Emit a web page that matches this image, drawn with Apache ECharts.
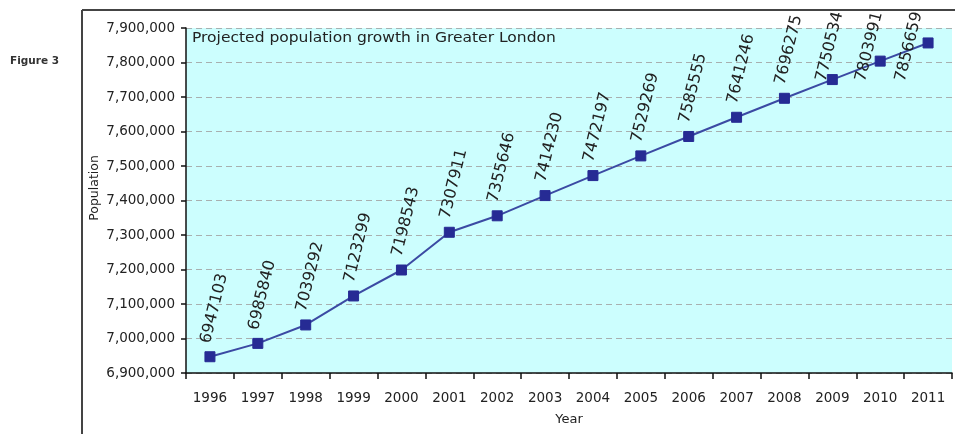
<!DOCTYPE html>
<html>
<head>
<meta charset="utf-8">
<script src="https://cdn.jsdelivr.net/npm/echarts@6/dist/echarts.min.js"></script>
<style>
  html, body { margin: 0; padding: 0; background: #ffffff; }
  #chart { width: 955px; height: 434px; }
</style>
</head>
<body>
<div id="chart"></div>
<script>
// Projected population of Greater London, by year
const years = ['1996', '1997', '1998', '1999', '2000', '2001', '2002', '2003',
               '2004', '2005', '2006', '2007', '2008', '2009', '2010', '2011'];
const population = [6947103, 6985840, 7039292, 7123299, 7198543, 7307911, 7355646, 7414230,
                    7472197, 7529269, 7585555, 7641246, 7696275, 7750534, 7803991, 7856659];
const yMin = 6900000;
const yMax = 7900000;
const yStep = 100000;

const FONT = '"DejaVu Sans", sans-serif';
const TEXT = '#222222';

// rotated value labels
const LABEL_ROTATE = 76;            // degrees, counter-clockwise
const LABEL_OFFSET = [7, -6];       // in the label's own (rotated) frame
const LABEL_RISE = 87;              // how far a label reaches above its point
const LABEL_CEILING = 8;            // labels may not rise above this y
const LABEL_SLIDE = 0.45;           // leftward slide per pixel pushed down

const chart = echarts.init(document.getElementById('chart'), null, { renderer: 'canvas' });

chart.setOption({
  backgroundColor: '#ffffff',
  animation: false,
  textStyle: { fontFamily: FONT },
  graphic: [
    // chart-area frame (top and left edges)
    { type: 'line', shape: { x1: 82, y1: 10, x2: 955, y2: 10 },
      style: { stroke: '#444444', lineWidth: 2 }, silent: true },
    { type: 'line', shape: { x1: 82, y1: 10, x2: 82, y2: 434 },
      style: { stroke: '#444444', lineWidth: 2 }, silent: true },
    { type: 'text', left: 10, top: 56,
      style: { text: 'Figure 3', font: 'bold 10.5px "DejaVu Sans", sans-serif', fill: '#333333' } },
    { type: 'text', x: 192, y: 38, z: 10, scaleX: 1.07,
      style: { text: 'Projected population growth in Greater London',
               font: '14.5px "DejaVu Sans", sans-serif', fill: TEXT,
               align: 'left', verticalAlign: 'middle' } },
    // y-axis title
    { type: 'text', x: 95, y: 188, rotation: Math.PI / 2,
      style: { text: 'Population', font: '12.5px "DejaVu Sans", sans-serif', fill: TEXT,
               align: 'center', verticalAlign: 'middle' } }
  ],
  grid: {
    left: 186, right: 3, top: 28, bottom: 61,
    show: true, backgroundColor: '#ccfefe', borderWidth: 0
  },
  xAxis: {
    type: 'category',
    data: years,
    boundaryGap: true,
    name: 'Year',
    nameLocation: 'middle',
    nameGap: 40,
    nameTextStyle: { color: TEXT, fontSize: 13, fontFamily: FONT },
    axisLine: { lineStyle: { color: '#111111', width: 1.5 } },
    axisTick: { show: true, alignWithLabel: false, length: 6, lineStyle: { color: '#111111', width: 1.5 } },
    axisLabel: { color: TEXT, fontSize: 13.5, fontFamily: FONT, margin: 18 },
    splitLine: { show: false }
  },
  yAxis: {
    type: 'value',
    min: yMin,
    max: yMax,
    interval: yStep,
    axisLine: { show: true, lineStyle: { color: '#111111', width: 1.5 } },
    axisTick: { show: true, length: 5, lineStyle: { color: '#111111', width: 1.5 } },
    axisLabel: {
      color: TEXT, fontSize: 13.5, fontFamily: FONT, margin: 11,
      formatter: v => v.toLocaleString('en-US')
    },
    splitLine: { show: true, lineStyle: { color: '#a8b0b0', type: [6, 4], width: 1 } }
  },
  series: [{
    type: 'line',
    data: population,
    symbol: 'rect',
    symbolSize: 10,
    lineStyle: { color: '#3b4aa3', width: 2 },
    itemStyle: { color: '#262b94', borderColor: '#262b94' },
    label: {
      show: true,
      position: 'top',
      distance: 0,
      rotate: LABEL_ROTATE,
      align: 'left',
      verticalAlign: 'middle',
      offset: LABEL_OFFSET,
      color: TEXT,
      fontSize: 16,
      fontFamily: FONT
    }
  }]
});

// Labels that would run off the top are pushed down (and slid left).
// The shift is given in screen pixels and turned into the label's rotated frame.
const th = LABEL_ROTATE * Math.PI / 180;
const cos = Math.cos(th), sin = Math.sin(th);
const seriesData = population.map((v, i) => {
  const py = chart.convertToPixel({ gridIndex: 0 }, [i, v])[1];
  const top = py - LABEL_RISE;
  if (top >= LABEL_CEILING) return v;
  const dy = LABEL_CEILING - top;
  const dx = -LABEL_SLIDE * dy;
  return {
    value: v,
    label: {
      offset: [LABEL_OFFSET[0] + dx * cos - dy * sin,
               LABEL_OFFSET[1] + dx * sin + dy * cos]
    }
  };
});
chart.setOption({ series: [{ data: seriesData }] });
</script>
</body>
</html>
